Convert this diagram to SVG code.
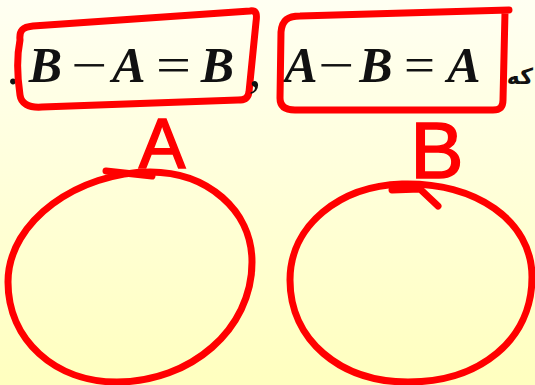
<svg xmlns="http://www.w3.org/2000/svg" width="535" height="385" viewBox="0 0 535 385">
<defs>
<linearGradient id="bg" x1="0" y1="0" x2="0" y2="1">
<stop offset="0" stop-color="#fffff2"/>
<stop offset="1" stop-color="#ffffbf"/>
</linearGradient>
</defs>
<style>
.ink{fill:none;stroke:#ff0000;stroke-width:7;stroke-linecap:round;stroke-linejoin:round}
.m{font-family:"Liberation Serif","Times New Roman",serif;font-size:50px;fill:#111;text-anchor:middle}
.v{font-style:italic;font-weight:bold}
.op{text-anchor:start}
.hand{font-family:"Liberation Sans",Arial,sans-serif;fill:#ff0000;stroke:#ff0000;stroke-width:1.5;text-anchor:middle}
</style>
<rect width="535" height="385" fill="url(#bg)"/>
<g id="formula-left">
<text class="m" x="13" y="84" font-size="30">.</text>
<text class="m v" x="45.5" y="82">B</text>
<text class="m op" x="71" y="82" textLength="36" lengthAdjust="spacingAndGlyphs">−</text>
<text class="m v" x="129" y="82">A</text>
<text class="m op" x="156" y="82" textLength="35" lengthAdjust="spacingAndGlyphs">=</text>
<text class="m v" x="217.5" y="82">B</text>
<path class="ink" d="M20,40 C19,30 23,27 33,26 L250,11 C257,10 257,15 256,22 L249,92 C248,99 244,100 238,100 L42,107 C28,108 21,103 20,95 C17,75 17,55 20,40 Z"/>
</g>
<text class="m" x="255" y="86">,</text>
<g id="formula-right">
<text class="m v" x="301" y="82">A</text>
<text class="m op" x="318" y="82" textLength="36" lengthAdjust="spacingAndGlyphs">−</text>
<text class="m v" x="376" y="82">B</text>
<text class="m op" x="404" y="82" textLength="31" lengthAdjust="spacingAndGlyphs">=</text>
<text class="m v" x="464" y="82">A</text>
<path class="ink" d="M281,32 C282,20 288,16 300,16 L509,10 M505,12 L503,100 C503,107 500,110 493,110 L295,110 C285,110 280,106 280,98 L281,32"/>
</g>
<text x="533" y="84" text-anchor="end" font-family="DejaVu Sans, sans-serif" font-weight="bold" font-size="22" fill="#111">که</text>
<g id="set-a">
<text class="hand" x="162" y="168" font-size="70">A</text>
<path class="ink" d="M150,172 C207,172 252,210 252,262 C252,330 190,382 117,382 C55,382 8,340 8,282 C8,220 80,172 150,172 Z"/>
<path class="ink" stroke-width="9" d="M106,171 L152,176"/>
</g>
<g id="set-b">
<text class="hand" x="437" y="178" font-size="80">B</text>
<path class="ink" d="M402,184 C475,182 532,220 532,277 C532,340 480,382 408,382 C340,382 290,340 290,280 C290,225 340,186 402,184 Z"/>
<path class="ink" stroke-width="9" d="M392,190 L420,189 L438,206"/>
</g>
</svg>
